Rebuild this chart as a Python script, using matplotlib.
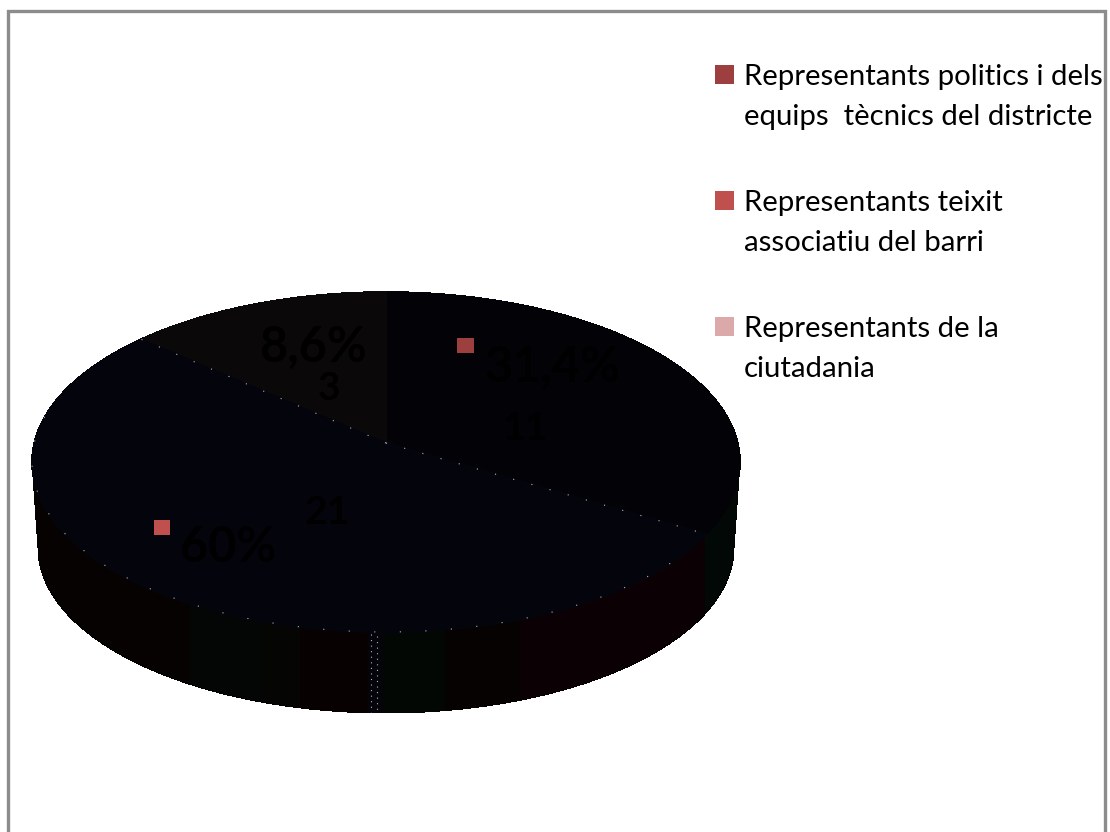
import numpy as np
import matplotlib
matplotlib.use("Agg")
import matplotlib.pyplot as plt
from matplotlib.patches import Polygon, Rectangle

categories = ["Representants politics i dels\nequips  tècnics del districte",
              "Representants teixit\nassociatiu del barri",
              "Representants de la\nciutadania"]
counts = [11, 21, 3]
percent_labels = ["31,4%", "60%", "8,6%"]

legend_colors = ["#9d3f3f", "#c0504d", "#dba9a9"]
top_colors = ["#020207", "#04040d", "#0a0808"]
band_edges = [30, 125, 190, 260, 300, 368, 382, 445, 520, 705, 740]
band_colors = ["#060202", "#070202", "#030604", "#050504", "#080101", "#04040a",
               "#020704", "#060202", "#0b0105", "#020806"]

fig = plt.figure(figsize=(11.10, 8.32), dpi=100)
ax = fig.add_axes([0, 0, 1, 1])
ax.set_xlim(0, 1110)
ax.set_ylim(832, 0)
ax.axis("off")
plt.rcParams["font.family"] = ["Lato", "DejaVu Sans"]

# frame: open at the bottom, as in the reference
ax.plot([8, 8, 1104.5, 1104.5], [832, 10.5, 10.5, 832], color="#8c8c8c", lw=2.4,
        solid_joinstyle="miter")

# projected cylinder
cx, cy, rx, ry = 386, 462, 354, 170
bx, by, brx, bry = 386, 548, 348, 165
apex = (386, 443)


def rim(deg):
    d = np.radians(deg)
    warped = d + np.radians(9.4) * np.sin(d) + np.radians(9.2) * np.sin(2 * d)
    return cx + rx * np.sin(warped), cy - ry * np.cos(warped)


# side bands, clipped to the silhouette of the cylinder
lower = np.linspace(0, np.pi, 200)
silhouette = np.column_stack([
    np.r_[bx + brx * np.cos(lower), cx - rx, cx + rx],
    np.r_[by + bry * np.sin(lower), cy, cy],
])
clip = Polygon(silhouette, closed=True, transform=ax.transData, fc="#050303", ec="none",
               antialiased=False)
ax.add_patch(clip)
for left, right, colour in zip(band_edges[:-1], band_edges[1:], band_colors):
    band = Rectangle((left, 450), right - left, 280, fc=colour, ec="none")
    ax.add_patch(band)
    band.set_clip_path(clip)

# top faces from the data; the largest wedge lies over the others
total = sum(counts)
sweeps = [360 * v / total for v in counts]
starts = np.cumsum([0] + sweeps[:-1])
for i in [0, 2, 1]:
    a = np.linspace(starts[i], starts[i] + sweeps[i], 200)
    x, y = rim(a)
    ax.add_patch(Polygon(np.column_stack([np.r_[apex[0], x], np.r_[apex[1], y]]),
                         closed=True, fc=top_colors[i], ec=top_colors[i], lw=0.5,
                         zorder=3 + (i == 1), antialiased=False))

# sparse light specks along the wedge edges and the seam on the side
speck = dict(color="#b5b5b5", lw=0.8, zorder=5)
for deg in (starts[1], starts[2]):
    ex, ey = rim(deg)
    ax.plot([apex[0], ex], [apex[1], ey], ls=(0, (1, 16)), **speck)
a = np.linspace(starts[1] + 15, starts[2] - 25, 200)
x, y = rim(a)
ax.plot(x, y, ls=(0, (1, 22)), **speck)
ax.plot([371, 371], [634, 712], ls=(0, (1, 4)), **speck)
ax.plot([377, 377], [636, 712], ls=(0, (1, 4)), **speck)

# data labels
label_style = dict(fontweight="bold", color="black", ha="center", va="center", zorder=6)
ax.text(313, 347, percent_labels[2], fontsize=35, **label_style)
ax.text(329, 388, str(counts[2]), fontsize=28, **label_style)
ax.text(552, 367, percent_labels[0], fontsize=35, **label_style)
ax.text(525, 429, str(counts[0]), fontsize=28, **label_style)
ax.text(327, 512, str(counts[1]), fontsize=28, **label_style)
ax.text(228, 547, percent_labels[1], fontsize=35, **label_style)
ax.add_patch(Rectangle((457, 338), 17, 15, fc=legend_colors[0], ec="none", zorder=7))
ax.add_patch(Rectangle((154, 520), 16, 15, fc=legend_colors[1], ec="none", zorder=7))

# legend
for i, (label, colour) in enumerate(zip(categories, legend_colors)):
    top = 65 + 126 * i
    ax.add_patch(Rectangle((715, top), 19, 19, fc=colour, ec="none"))
    first, second = label.split("\n")
    ax.text(744, top + 12, first, fontsize=21.2, color="black", ha="left", va="center")
    ax.text(744, top + 52, second, fontsize=21.2, color="black", ha="left", va="center")

fig.savefig("out.png", dpi=100)
